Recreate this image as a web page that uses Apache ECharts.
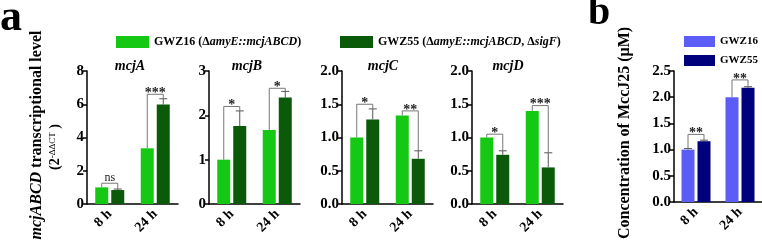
<!DOCTYPE html>
<html>
<head>
<meta charset="utf-8">
<script src="https://cdn.jsdelivr.net/npm/echarts@6/dist/echarts.min.js"></script>
<style>
  html, body { margin: 0; padding: 0; background: #fff; }
  #chart { width: 762px; height: 245px; }
</style>
</head>
<body>
<div id="chart"></div>
<script>
  // ---- data ----
  var categories = ["8 h", "24 h"];
  var panelTitles = ["mcjA", "mcjB", "mcjC", "mcjD"];

  // panel a : relative transcription (2^-ddCT)
  var mcjA16 = [1.0, 3.35], mcjA55 = [0.84, 5.98];
  var mcjAErr16 = [0, 0], mcjAErr55 = [0.06, 0.35];
  var mcjASigY = [1.25, 6.6], mcjASig = ["ns", "***"];

  var mcjB16 = [1.0, 1.67], mcjB55 = [1.76, 2.4];
  var mcjBErr16 = [0, 0], mcjBErr55 = [0.34, 0.14];
  var mcjBSigY = [2.2, 2.61], mcjBSig = ["*", "*"];

  var mcjC16 = [1.0, 1.33], mcjC55 = [1.27, 0.68];
  var mcjCErr16 = [0, 0], mcjCErr55 = [0.16, 0.12];
  var mcjCSigY = [1.5, 1.4], mcjCSig = ["*", "**"];

  var mcjD16 = [1.0, 1.4], mcjD55 = [0.74, 0.55];
  var mcjDErr16 = [0, 0], mcjDErr55 = [0.06, 0.22];
  var mcjDSigY = [1.05, 1.48], mcjDSig = ["*", "***"];

  // panel b : MccJ25 concentration (uM)
  var mccJ16 = [1.0, 2.0], mccJ55 = [1.16, 2.18];
  var mccJErr16 = [0.02, 0], mccJErr55 = [0.02, 0.02];
  var mccJSigY = [1.29, 2.33], mccJSig = ["**", "**"];

  // y axis ticks
  var yMax = [8, 3, 2, 2, 2.5];
  var yStep = [2, 1, 0.5, 0.5, 0.5];
  var yDecimals = [0, 0, 1, 1, 1];

  // ---- styles ----
  var FONT = '"Liberation Serif", "Times New Roman", serif';
  var GREEN = "#14c814", DKGREEN = "#0a5a0a";
  var BLUE = "#5c5cf6", NAVY = "#00007c";
  var ERR = "#555", SIG = "#777";
  var BAR_W = 13, BAR_GAP = 3, OFF = (BAR_W + BAR_GAP) / 2;
  var LEG16 = "GWZ16 (ΔamyE::mcjABCD)";
  var LEG55 = "GWZ55 (ΔamyE::mcjABCD, ΔsigF)";

  var panels = [
    { v16: mcjA16, v55: mcjA55, e16: mcjAErr16, e55: mcjAErr55, sy: mcjASigY, sig: mcjASig, left: 87, width: 91, height: 133 },
    { v16: mcjB16, v55: mcjB55, e16: mcjBErr16, e55: mcjBErr55, sy: mcjBSigY, sig: mcjBSig, left: 209, width: 91, height: 133 },
    { v16: mcjC16, v55: mcjC55, e16: mcjCErr16, e55: mcjCErr55, sy: mcjCSigY, sig: mcjCSig, left: 342, width: 91, height: 133 },
    { v16: mcjD16, v55: mcjD55, e16: mcjDErr16, e55: mcjDErr55, sy: mcjDSigY, sig: mcjDSig, left: 472, width: 91, height: 133 },
    { v16: mccJ16, v55: mccJ55, e16: mccJErr16, e55: mccJErr55, sy: mccJSigY, sig: mccJSig, left: 674, width: 88, height: 131 }
  ];

  function renderErr(params, api) {
    var c = api.value(0), side = api.value(1), v = api.value(2), e = api.value(3);
    if (!e) return null;
    var a = api.coord([c, v]), b = api.coord([c, v + e]);
    var x = a[0] + (side ? OFF : -OFF);
    return {
      type: "group",
      children: [
        { type: "line", shape: { x1: x, y1: a[1], x2: x, y2: b[1] }, style: { stroke: ERR, lineWidth: 1 } },
        { type: "line", shape: { x1: x - 4, y1: b[1], x2: x + 4, y2: b[1] }, style: { stroke: ERR, lineWidth: 1 } }
      ]
    };
  }

  function makeSigRender(labels) {
    return function (params, api) {
      var c = api.value(0);
      var p1 = api.coord([c, api.value(1)]);
      var p2 = api.coord([c, api.value(2)]);
      var ph = api.coord([c, api.value(3)]);
      var x1 = p1[0] - OFF, x2 = p1[0] + OFF;
      var lab = labels[params.dataIndex];
      var star = lab.indexOf("*") >= 0;
      return {
        type: "group",
        children: [
          {
            type: "polyline",
            shape: { points: [[x1, p1[1]], [x1, ph[1]], [x2, ph[1]], [x2, p2[1]]] },
            style: { stroke: SIG, fill: "none", lineWidth: 1 }
          },
          {
            type: "text",
            x: (x1 + x2) / 2,
            y: ph[1] + (star ? 6 : 1),
            style: {
              text: lab, align: "center", verticalAlign: "bottom", fill: "#222",
              fontFamily: FONT, fontSize: star ? 14 : 12, fontWeight: star ? "bold" : "normal"
            }
          }
        ]
      };
    };
  }

  var grid = [], xAxis = [], yAxis = [], series = [];
  panels.forEach(function (p, i) {
    var isB = i === 4;
    grid.push({ left: p.left, top: 71, width: p.width, height: p.height });
    xAxis.push({
      type: "category", gridIndex: i, data: categories,
      axisLine: { lineStyle: { color: "#000", width: 1.5 } },
      axisTick: { alignWithLabel: true, length: 4, lineStyle: { color: "#000", width: 1.5 } },
      axisLabel: { rotate: 45, interval: 0, margin: 8, color: "#000", fontFamily: FONT, fontWeight: "bold", fontSize: 14 }
    });
    yAxis.push({
      type: "value", gridIndex: i, min: 0, max: yMax[i], interval: yStep[i],
      splitLine: { show: false },
      axisLine: { show: true, lineStyle: { color: "#000", width: 1.5 } },
      axisTick: { show: true, length: 4, lineStyle: { color: "#000", width: 1.5 } },
      axisLabel: {
        margin: 3, color: "#000", fontFamily: FONT, fontWeight: "bold", fontSize: 15,
        formatter: (function (d) { return function (v) { return v.toFixed(d); }; })(yDecimals[i])
      }
    });
    series.push({
      name: isB ? "GWZ16" : LEG16, type: "bar", xAxisIndex: i, yAxisIndex: i,
      barWidth: BAR_W, barGap: (BAR_GAP / BAR_W * 100) + "%",
      itemStyle: { color: isB ? BLUE : GREEN }, data: p.v16
    });
    series.push({
      name: isB ? "GWZ55" : LEG55, type: "bar", xAxisIndex: i, yAxisIndex: i,
      barWidth: BAR_W, barGap: (BAR_GAP / BAR_W * 100) + "%",
      itemStyle: { color: isB ? NAVY : DKGREEN }, data: p.v55
    });
    var errData = [];
    categories.forEach(function (c, k) {
      errData.push([k, 0, p.v16[k], p.e16[k]]);
      errData.push([k, 1, p.v55[k], p.e55[k]]);
    });
    series.push({
      type: "custom", xAxisIndex: i, yAxisIndex: i, z: 3, silent: true,
      encode: { x: 0, y: 2 }, renderItem: renderErr, data: errData
    });
    var sigData = categories.map(function (c, k) {
      return [k, p.v16[k] + p.e16[k], p.v55[k] + p.e55[k], p.sy[k]];
    });
    series.push({
      type: "custom", xAxisIndex: i, yAxisIndex: i, z: 4, silent: true,
      encode: { x: 0, y: 3 }, renderItem: makeSigRender(p.sig), data: sigData
    });
  });

  var legRich = {
    n: { fontFamily: FONT, fontWeight: "bold", fontSize: 12, color: "#000" },
    i: { fontFamily: FONT, fontWeight: "bold", fontStyle: "italic", fontSize: 12, color: "#000" }
  };
  function legFormat(name) {
    if (name === LEG16) return "{n|GWZ16 (Δ}{i|amyE::mcjABCD}{n|)}";
    return "{n|GWZ55 (Δ}{i|amyE::mcjABCD}{n|, Δ}{i|sigF}{n|)}";
  }

  var graphic = [
    { type: "text", x: 0, y: -3, style: { text: "a", fontFamily: FONT, fontWeight: "bold", fontSize: 44, fill: "#000" } },
    { type: "text", x: 588, y: -6, style: { text: "b", fontFamily: FONT, fontWeight: "bold", fontSize: 40, fill: "#000" } },
    {
      type: "text", x: 37, y: 135, rotation: Math.PI / 2,
      style: {
        text: "{i|mcjABCD}{n| transcriptional level}", align: "center", verticalAlign: "middle",
        rich: {
          n: { fontFamily: FONT, fontWeight: "bold", fontSize: 16, fill: "#000" },
          i: { fontFamily: FONT, fontWeight: "bold", fontStyle: "italic", fontSize: 16, fill: "#000" }
        }
      }
    },
    {
      type: "text", x: 55, y: 147, rotation: Math.PI / 2,
      style: {
        text: "{n|(2}{s|-ΔΔCT}{n| )}", align: "center", verticalAlign: "middle",
        rich: {
          n: { fontFamily: FONT, fontWeight: "bold", fontSize: 14, fill: "#000" },
          s: { fontFamily: FONT, fontSize: 9, fill: "#000", verticalAlign: "top" }
        }
      }
    },
    {
      type: "text", x: 625, y: 133, rotation: Math.PI / 2,
      style: {
        text: "Concentration of MccJ25 (μM)", align: "center", verticalAlign: "middle",
        fontFamily: FONT, fontWeight: "bold", fontSize: 16, fill: "#000"
      }
    }
  ];
  var titleX = [130, 247, 383, 508];
  panelTitles.forEach(function (t, i) {
    graphic.push({
      type: "text", x: titleX[i], y: 66,
      style: {
        text: t, align: "center", verticalAlign: "middle",
        fontFamily: FONT, fontWeight: "bold", fontStyle: "italic", fontSize: 14, fill: "#000"
      }
    });
  });

  var chart = echarts.init(document.getElementById("chart"), null, { renderer: "canvas" });
  chart.setOption({
    animation: false,
    backgroundColor: "#fff",
    grid: grid,
    xAxis: xAxis,
    yAxis: yAxis,
    legend: [
      {
        data: [LEG16], left: 111, top: 31, icon: "rect", itemWidth: 33, itemHeight: 12,
        selectedMode: false, formatter: legFormat, textStyle: { rich: legRich }
      },
      {
        data: [LEG55], left: 335, top: 31, icon: "rect", itemWidth: 33, itemHeight: 12,
        selectedMode: false, formatter: legFormat, textStyle: { rich: legRich }
      },
      {
        data: ["GWZ16", "GWZ55"], orient: "vertical", left: 679, top: 31, icon: "rect",
        itemWidth: 31, itemHeight: 11, itemGap: 8, selectedMode: false,
        textStyle: { fontFamily: FONT, fontWeight: "bold", fontSize: 11, color: "#000" }
      }
    ],
    graphic: graphic,
    series: series
  });
</script>
</body>
</html>
